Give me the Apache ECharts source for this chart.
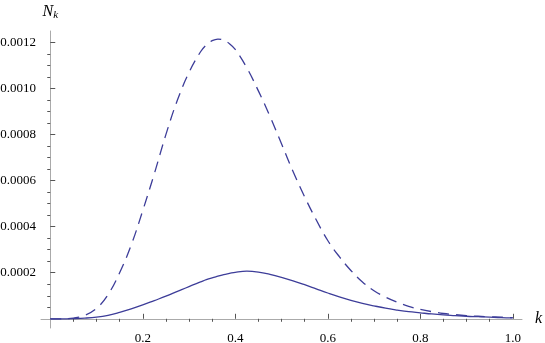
<!DOCTYPE html>
<html>
<head>
<meta charset="utf-8">
<script src="https://cdn.jsdelivr.net/npm/echarts@6/dist/echarts.min.js"></script>
<style>html,body{margin:0;padding:0;background:#fff;}#c{width:545px;height:343px;}</style>
</head>
<body>
<div id="c"></div>
<script>
var kValues = [0,0.025,0.05,0.075,0.1,0.125,0.15,0.175,0.2,0.225,0.25,0.275,0.3,0.325,0.3375,0.35,0.3625,0.375,0.3875,0.4,0.425,0.45,0.475,0.5,0.525,0.55,0.575,0.6,0.625,0.65,0.675,0.7,0.725,0.75,0.775,0.8,0.825,0.85,0.875,0.9,0.925,0.95,0.975,1.0];
var dashedN = [0,0,0.000003,0.000015,0.000045,0.000105,0.0002,0.00032,0.00047,0.00063,0.0008,0.00095,0.00107,0.00116,0.00119,0.001208,0.001215,0.00121,0.001195,0.00117,0.00109,0.00099,0.00088,0.00076,0.00064,0.00053,0.00043,0.00034,0.00027,0.00021,0.00016,0.000122,0.000094,0.000072,0.000054,0.000041,0.000031,0.000023,0.000018,0.000014,0.000011,0.000009,0.000007,0.000005];
var solidN = [0,0,0.000001,0.000003,0.000007,0.000015,0.000028,0.000043,0.00006,0.000079,0.000098,0.000119,0.00014,0.00016,0.00017,0.000178,0.000185,0.000192,0.000197,0.000202,0.000207,0.000203,0.000193,0.00018,0.000165,0.000148,0.00013,0.000112,0.000095,0.00008,0.000067,0.000056,0.000046,0.000038,0.000031,0.000026,0.000021,0.000017,0.000014,0.000011,0.000009,0.000007,0.000005,0.000004];
var xMajorTicks = [0.2,0.4,0.6,0.8,1.0];
var xMinorTicks = [0.05,0.1,0.15,0.25,0.3,0.35,0.45,0.5,0.55,0.65,0.7,0.75,0.85,0.9,0.95];
var yMajorTicks = [0.0002,0.0004,0.0006,0.0008,0.0010,0.0012];
var yMinorTicks = [0.00005,0.0001,0.00015,0.00025,0.0003,0.00035,0.00045,0.0005,0.00055,0.00065,0.0007,0.00075,0.00085,0.0009,0.00095,0.00105,0.0011,0.00115];

function pairs(ys){ return kValues.map(function(k,i){ return [k, ys[i]]; }); }

var font = '"Liberation Serif", "Times New Roman", serif';
var lineColor = '#3d3d99';
var chart = echarts.init(document.getElementById('c'), null, {renderer:'canvas'});
chart.setOption({
  animation:false,
  backgroundColor:'#fff',
  textStyle:{fontFamily:font},
  grid:{left:41, right:23, top:31, bottom:15, containLabel:false, outerBoundsMode:'none'},
  xAxis:[{
    type:'value', min:-0.02, max:1.02,
    name:'k', nameLocation:'end', nameGap:13,
    nameTextStyle:{fontFamily:font, fontStyle:'italic', fontSize:16, color:'#000', verticalAlign:'middle'},
    axisLine:{onZero:true, lineStyle:{color:'#aaaaaa', width:1}},
    axisTick:{show:true, inside:true, length:5, customValues:xMajorTicks, lineStyle:{color:'#555', width:1}},
    axisLabel:{customValues:xMajorTicks, margin:4, fontFamily:font, fontSize:13, color:'#000',
      formatter:function(v){ return v.toFixed(1); }},
    splitLine:{show:false}
  },{
    type:'value', min:-0.02, max:1.02,
    axisLine:{show:false, onZero:true},
    axisTick:{show:true, inside:true, length:3, customValues:xMinorTicks, lineStyle:{color:'#555', width:1}},
    axisLabel:{show:false},
    splitLine:{show:false}
  }],
  yAxis:[{
    type:'value', min:-0.00004, max:0.00125,
    name:'{n|N}{s|k}', nameLocation:'end', nameGap:10,
    nameTextStyle:{rich:{
      n:{fontFamily:font, fontStyle:'italic', fontSize:16, color:'#000'},
      s:{fontFamily:font, fontStyle:'italic', fontSize:11, color:'#000', padding:[8,0,0,0]}
    }},
    axisLine:{onZero:true, lineStyle:{color:'#aaaaaa', width:1}},
    axisTick:{show:true, inside:true, length:5, customValues:yMajorTicks, lineStyle:{color:'#555', width:1}},
    axisLabel:{customValues:yMajorTicks, margin:5, fontFamily:font, fontSize:13, color:'#000',
      formatter:function(v){ return v.toFixed(4); }},
    splitLine:{show:false}
  },{
    type:'value', min:-0.00004, max:0.00125,
    axisLine:{show:false, onZero:true},
    axisTick:{show:true, inside:true, length:3, customValues:yMinorTicks, lineStyle:{color:'#555', width:1}},
    axisLabel:{show:false},
    splitLine:{show:false}
  }],
  series:[{
    type:'line', xAxisIndex:0, yAxisIndex:0, data:pairs(dashedN), smooth:0.4, showSymbol:false,
    lineStyle:{color:lineColor, width:1.3, type:[11,7]}
  },{
    type:'line', xAxisIndex:0, yAxisIndex:0, data:pairs(solidN), smooth:0.4, showSymbol:false,
    lineStyle:{color:lineColor, width:1.3}
  }]
});
</script>
</body>
</html>
